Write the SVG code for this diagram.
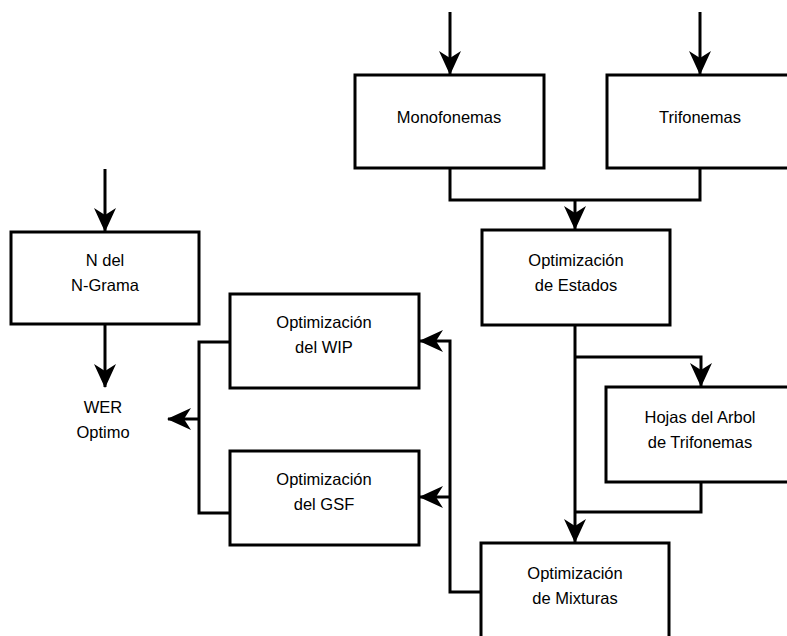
<svg xmlns="http://www.w3.org/2000/svg" width="787" height="636" viewBox="0 0 787 636">
<style>
.box{fill:#fff;stroke:#000;stroke-width:3}
.ln{fill:none;stroke:#000;stroke-width:3}
.t{font-family:"Liberation Sans",Arial,sans-serif;font-size:16.5px;fill:#000;text-anchor:middle}
</style>
<defs>
<marker id="ah" markerUnits="userSpaceOnUse" markerWidth="24" markerHeight="24" viewBox="0 0 24 24" refX="23" refY="12" orient="auto">
<path d="M0,1 L24,12 L0,23 L7,12 z" fill="#000"/>
</marker>
</defs>
<rect width="787" height="636" fill="#fff"/>
<g id="connectors">
<path class="ln" d="M450,12 V74" marker-end="url(#ah)"/>
<path class="ln" d="M700,12 V74" marker-end="url(#ah)"/>
<path class="ln" d="M450,168 V200 H700 V168"/>
<path class="ln" d="M575,200 V229" marker-end="url(#ah)"/>
<path class="ln" d="M105,169 V231" marker-end="url(#ah)"/>
<path class="ln" d="M105,324 V387" marker-end="url(#ah)"/>
<path class="ln" d="M575,325 V542" marker-end="url(#ah)"/>
<path class="ln" d="M575,357 H701 V386" marker-end="url(#ah)"/>
<path class="ln" d="M701,482 V512 H575"/>
<path class="ln" d="M481,592 H450 V341 H420" marker-end="url(#ah)"/>
<path class="ln" d="M450,497 H420" marker-end="url(#ah)"/>
<path class="ln" d="M230,342 H199 V513 H230"/>
<path class="ln" d="M199,419 H168" marker-end="url(#ah)"/>
</g>
<g id="monofonemas">
<rect class="box" x="355" y="75" width="189" height="93"/>
<text class="t" x="449" y="123">Monofonemas</text>
</g>
<g id="trifonemas">
<rect class="box" x="607" y="75" width="189" height="93"/>
<text class="t" x="700" y="123">Trifonemas</text>
</g>
<g id="estados">
<rect class="box" x="482" y="230" width="188" height="95"/>
<text class="t" x="576" y="266">Optimización</text>
<text class="t" x="576" y="291">de Estados</text>
</g>
<g id="ngrama">
<rect class="box" x="11" y="232" width="188" height="92"/>
<text class="t" x="105" y="266">N del</text>
<text class="t" x="105" y="291">N-Grama</text>
</g>
<g id="wer">
<text class="t" x="103" y="413">WER</text>
<text class="t" x="103" y="438">Optimo</text>
</g>
<g id="wip">
<rect class="box" x="230" y="294" width="189" height="94"/>
<text class="t" x="324" y="328">Optimización</text>
<text class="t" x="324" y="353">del WIP</text>
</g>
<g id="gsf">
<rect class="box" x="230" y="451" width="189" height="94"/>
<text class="t" x="324" y="485">Optimización</text>
<text class="t" x="324" y="510">del GSF</text>
</g>
<g id="hojas">
<rect class="box" x="606" y="387" width="189" height="95"/>
<text class="t" x="700" y="423">Hojas del Arbol</text>
<text class="t" x="700" y="448">de Trifonemas</text>
</g>
<g id="mixturas">
<rect class="box" x="481" y="543" width="188" height="100"/>
<text class="t" x="575" y="579">Optimización</text>
<text class="t" x="575" y="604">de Mixturas</text>
</g>
</svg>
